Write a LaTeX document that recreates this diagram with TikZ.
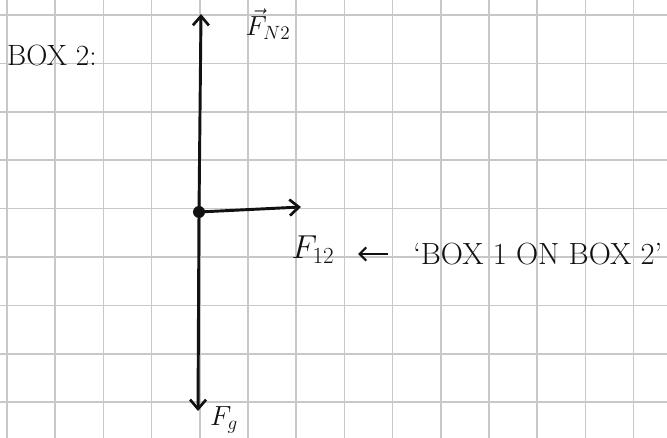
\documentclass[tikz,border=0pt]{standalone}
\usepackage{amsmath,amssymb}
\usepackage{xcolor}
\usepackage{tikz}
\usetikzlibrary{arrows.meta}
\definecolor{ink}{HTML}{111111}
\definecolor{gridgray}{HTML}{C8C8C8}

\begin{document}
\begin{tikzpicture}[x=0.75pt,y=-0.75pt,
  force/.style={ink,line width=2.2pt,line cap=round,
    -{Straight Barb[length=7pt,width=12pt,line width=2pt]}},
  lbl/.style={ink,inner sep=0pt,font=\fontsize{22}{26}\selectfont}]
  \useasboundingbox (0,0) rectangle (667,438);
  \fill[white] (0,0) rectangle (667,438);
  % grid paper
  \foreach \k in {0,...,13}
    \draw[gridgray,line width=1.1pt] ({7+48.2*\k},0) -- ({7+48.2*\k},438);
  \foreach \k in {0,...,8}
    \draw[gridgray,line width=1.1pt] (0,{15+48.4*\k}) -- (667,{15+48.4*\k});
  % forces on box 2
  \coordinate (box) at (199,212);
  \coordinate (up) at (201,14);
  \coordinate (down) at (198,411);
  \coordinate (right) at (301,207);
  \draw[force] (box) -- (up);
  \draw[force] (box) -- (down);
  \draw[force] (box) -- (right);
  \fill[ink] (box) circle (4.5pt);
  \node[lbl] (title) at (52,55) {BOX 2:};
  \node[lbl] (fn) at (268,24) {\(\vec{F}_{N2}\)};
  \node[lbl] (fg) at (224,420) {\(F_g\)};
  \node[lbl,font=\fontsize{26}{30}\selectfont] (f12) at (313,250) {\(F_{12}\)};
  \node[lbl,font=\fontsize{23}{27}\selectfont,anchor=west] (note) at (413,254)
    {`BOX 1 ON BOX 2'};
  \draw[ink,line width=1.6pt,-{Straight Barb[length=5pt,width=10pt]}]
    (note.west) ++(-25,0) coordinate (noteend) -- ++(-30,0) coordinate (notetip);
\end{tikzpicture}
\end{document}
